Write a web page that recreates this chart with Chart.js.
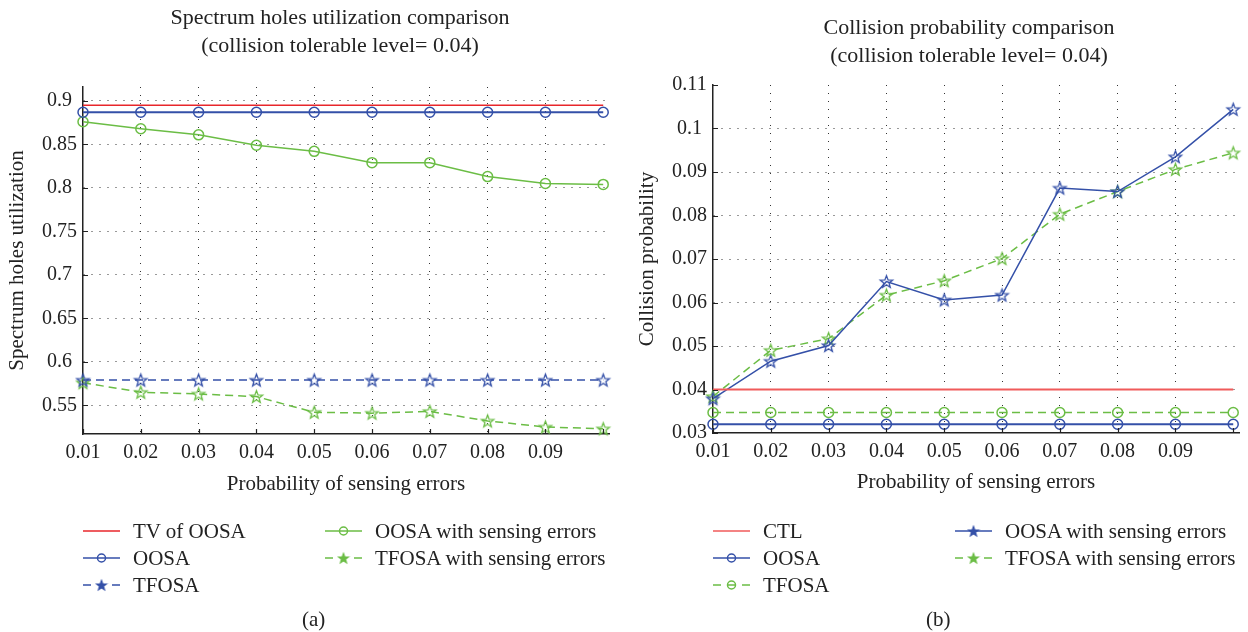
<!DOCTYPE html>
<html><head><meta charset="utf-8">
<script src="https://cdn.jsdelivr.net/npm/chart.js@4.4.0/dist/chart.umd.min.js"></script>
<style>
html,body{margin:0;padding:0;background:#fff;}
#wrap{position:relative;width:1248px;height:632px;overflow:hidden;font-family:"Liberation Serif",serif;color:#222;}
.panel{position:absolute;top:0;width:624px;height:632px;}
.panel canvas.chart{position:absolute;left:0;top:0;}
.ttl{position:absolute;width:500px;text-align:center;font-size:22px;line-height:28px;white-space:nowrap;}
.item{position:absolute;height:24px;display:flex;align-items:center;white-space:nowrap;font-size:21px;line-height:24px;}
.item canvas{margin-right:13px;}
.cap{position:absolute;top:606px;font-size:21px;line-height:26px;}
</style></head>
<body>
<div id="wrap">
  <div class="panel" id="pA" style="left:0"><canvas class="chart" id="cA" width="624" height="632"></canvas><div class="ttl" id="tA" style="left:90px;top:3px"></div><div class="cap" style="left:302px">(a)</div></div>
  <div class="panel" id="pB" style="left:624px"><canvas class="chart" id="cB" width="624" height="632"></canvas><div class="ttl" id="tB" style="left:95px;top:13px"></div><div class="cap" style="left:302px">(b)</div></div>
</div>
<script>
// ---------- data ----------
const xValues = [0.01, 0.02, 0.03, 0.04, 0.05, 0.06, 0.07, 0.08, 0.09, 0.10];
const xTickLabels = ['0.01','0.02','0.03','0.04','0.05','0.06','0.07','0.08','0.09',''];
const xAxisTitle = 'Probability of sensing errors';

// (a) Spectrum holes utilization
const titleA = ['Spectrum holes utilization comparison', '(collision tolerable level= 0.04)'];
const yTitleA = 'Spectrum holes utilization';
const yTicksA = [0.55, 0.6, 0.65, 0.7, 0.75, 0.8, 0.85, 0.9];
const yTickLabelsA = ['0.55','0.6','0.65','0.7','0.75','0.8','0.85','0.9'];
const tvOosaA    = [0.895, 0.895, 0.895, 0.895, 0.895, 0.895, 0.895, 0.895, 0.895, 0.895];
const oosaA      = [0.887, 0.887, 0.887, 0.887, 0.887, 0.887, 0.887, 0.887, 0.887, 0.887];
const tfosaA     = [0.579, 0.579, 0.579, 0.579, 0.579, 0.579, 0.579, 0.579, 0.579, 0.579];
const oosaErrA   = [0.876, 0.868, 0.861, 0.849, 0.842, 0.829, 0.829, 0.813, 0.805, 0.804];
const tfosaErrA  = [0.576, 0.565, 0.563, 0.560, 0.542, 0.541, 0.543, 0.532, 0.525, 0.523];

// (b) Collision probability
const titleB = ['Collision probability comparison', '(collision tolerable level= 0.04)'];
const yTitleB = 'Collision probability';
const yTicksB = [0.03, 0.04, 0.05, 0.06, 0.07, 0.08, 0.09, 0.10, 0.11];
const yTickLabelsB = ['0.03','0.04','0.05','0.06','0.07','0.08','0.09','0.1','0.11'];
const ctlB       = [0.04, 0.04, 0.04, 0.04, 0.04, 0.04, 0.04, 0.04, 0.04, 0.04];
const oosaB      = [0.032, 0.032, 0.032, 0.032, 0.032, 0.032, 0.032, 0.032, 0.032, 0.032];
const tfosaB     = [0.0347, 0.0347, 0.0347, 0.0347, 0.0347, 0.0347, 0.0347, 0.0347, 0.0347, 0.0347];
const oosaErrB   = [0.0379, 0.0465, 0.0501, 0.0648, 0.0606, 0.0617, 0.0863, 0.0855, 0.0935, 0.1044];
const tfosaErrB  = [0.0384, 0.0490, 0.0517, 0.0617, 0.0650, 0.0701, 0.0803, 0.0855, 0.0906, 0.0944];

// ---------- styles ----------
const RED = '#e8262b', RED_B = '#f05a5a', BLUE = '#3450a8', GREEN = '#6bbd45';
const FONT = '"Liberation Serif", serif';
const TXT = '#222';
const DASH = [8, 5];

function starImg(color, r, fill) {
  const s = Math.ceil(r * 2 + 4);
  const c = document.createElement('canvas');
  c.width = s; c.height = s;
  const g = c.getContext('2d');
  g.strokeStyle = color; g.lineWidth = 1.3; g.lineJoin = 'miter';
  g.beginPath();
  for (let i = 0; i < 10; i++) {
    const rad = i % 2 ? r * 0.42 : r;
    const a = -Math.PI / 2 + i * Math.PI / 5;
    const px = s / 2 + rad * Math.cos(a), py = s / 2 + rad * Math.sin(a) + 0.6;
    i ? g.lineTo(px, py) : g.moveTo(px, py);
  }
  g.closePath();
  if (fill) { g.fillStyle = color; g.fill(); }
  g.stroke();
  return c;
}

function ds(label, values, color, opt) {
  return Object.assign({
    label, data: xValues.map((x, i) => ({x, y: values[i]})),
    borderColor: color, backgroundColor: 'rgba(0,0,0,0)',
    borderWidth: 1.5, pointRadius: 0, pointBorderWidth: 1.5, pointBorderColor: color,
    pointBackgroundColor: 'rgba(0,0,0,0)', tension: 0, clip: false, borderDash: []
  }, opt || {});
}

const inwardTicks = {
  id: 'inwardTicks',
  afterDatasetsDraw(chart) {
    const {ctx, chartArea: a, scales: {x, y}} = chart;
    ctx.save();
    ctx.strokeStyle = '#222'; ctx.lineWidth = 1.2;
    ctx.beginPath();
    x.ticks.forEach(t => { const px = Math.round(x.getPixelForValue(t.value)) + 0.5; ctx.moveTo(px, a.bottom); ctx.lineTo(px, a.bottom - 5); });
    y.ticks.forEach(t => { const py = Math.round(y.getPixelForValue(t.value)) + 0.5; ctx.moveTo(a.left, py); ctx.lineTo(a.left + 5, py); });
    ctx.stroke();
    ctx.restore();
  }
};

function makeChart(id, cfg) {
  return new Chart(document.getElementById(id), {
    type: 'line',
    data: {datasets: cfg.datasets},
    plugins: [inwardTicks],
    options: {
      responsive: false, animation: false, devicePixelRatio: 1,
      layout: {padding: {left: 0, right: cfg.padRight, top: cfg.padTop, bottom: 132}},
      plugins: {legend: {display: false}, tooltip: {enabled: false}, title: {display: false}},
      scales: {
        x: {
          type: 'linear', min: 0.01, max: 0.101,
          afterBuildTicks: s => { s.ticks = xValues.map(v => ({value: v})); },
          afterFit: s => { s.height = cfg.xHeight; },
          ticks: {autoSkip: false, maxRotation: 0, padding: 7, color: TXT,
            font: {family: FONT, size: 20, lineHeight: 1.2},
            callback: (v, i) => xTickLabels[i]},
          grid: {drawTicks: false, lineWidth: 1,
            color: c => (c.index > 0 && c.index < xValues.length - 1) ? '#333' : 'rgba(0,0,0,0)'},
          border: {display: true, color: '#222', width: 1.5, dash: [1, 7]},
          title: {display: true, text: xAxisTitle, color: TXT,
            font: {family: FONT, size: 21, lineHeight: 1.2}, padding: {top: 0, bottom: cfg.xTitlePad}}
        },
        y: {
          type: 'linear', min: cfg.yMin, max: cfg.yMax,
          afterBuildTicks: s => { s.ticks = cfg.yTicks.map(v => ({value: v})); },
          afterFit: s => { s.width = cfg.yWidth; },
          ticks: {autoSkip: false, padding: 6, crossAlign: 'center', color: TXT,
            font: {family: FONT, size: 20, lineHeight: 1.2},
            callback: (v, i) => cfg.yTickLabels[i]},
          grid: {drawTicks: false, lineWidth: 1,
            color: c => cfg.yGrid(c.index) ? '#333' : 'rgba(0,0,0,0)'},
          border: {display: true, color: '#222', width: 1.5, dash: [1, 7]},
          title: {display: true, text: cfg.yTitle, color: TXT,
            font: {family: FONT, size: 21, lineHeight: 1.2}, padding: {top: cfg.yTitlePad, bottom: 0}}
        }
      }
    }
  });
}

const circ = {pointStyle: 'circle', pointRadius: 5};
const chartA = makeChart('cA', {
  padTop: 87, padRight: 15, xHeight: 66, xTitlePad: 3,
  yMin: 0.517, yMax: 0.916, yTicks: yTicksA, yTickLabels: yTickLabelsA, yWidth: 83, yTitlePad: 5,
  yTitle: yTitleA, yGrid: i => true,
  datasets: [
    ds('TV of OOSA', tvOosaA, RED, {borderWidth: 1.5}),
    ds('OOSA', oosaA, BLUE, Object.assign({borderWidth: 2}, circ)),
    ds('TFOSA', tfosaA, BLUE, {borderDash: DASH, pointStyle: starImg(BLUE, 6.5), pointRadius: 6}),
    ds('OOSA with sensing errors', oosaErrA, GREEN, Object.assign({}, circ)),
    ds('TFOSA with sensing errors', tfosaErrA, GREEN, {borderDash: DASH, pointStyle: starImg(GREEN, 6.5), pointRadius: 6})
  ]
});
const chartB = makeChart('cB', {
  padTop: 85, padRight: 9, xHeight: 67, xTitlePad: 5,
  yMin: 0.03, yMax: 0.11, yTicks: yTicksB, yTickLabels: yTickLabelsB, yWidth: 89, yTitlePad: 11,
  yTitle: yTitleB, yGrid: i => i > 0 && i < yTicksB.length - 1,
  datasets: [
    ds('CTL', ctlB, RED_B, {borderWidth: 1.8}),
    ds('OOSA', oosaB, BLUE, Object.assign({borderWidth: 2}, circ)),
    ds('TFOSA', tfosaB, GREEN, Object.assign({borderDash: DASH}, circ)),
    ds('OOSA with sensing errors', oosaErrB, BLUE, {pointStyle: starImg(BLUE, 6.5), pointRadius: 6}),
    ds('TFOSA with sensing errors', tfosaErrB, GREEN, {borderDash: DASH, pointStyle: starImg(GREEN, 6.5), pointRadius: 6})
  ]
});

// ---------- titles ----------
function setTitle(id, lines) {
  const el = document.getElementById(id);
  lines.forEach(l => { const d = document.createElement('div'); d.textContent = l; el.appendChild(d); });
}
setTitle('tA', titleA);
setTitle('tB', titleB);

// ---------- HTML legends built from the datasets ----------
function legend(panelId, chart, places) {
  const panel = document.getElementById(panelId);
  chart.data.datasets.forEach((d, i) => {
    const p = places[i];
    const item = document.createElement('div');
    item.className = 'item';
    item.style.left = p[0] + 'px'; item.style.top = (p[1] - 12) + 'px';
    const c = document.createElement('canvas');
    c.width = 37; c.height = 16;
    const g = c.getContext('2d');
    const dashed = d.borderDash && d.borderDash.length;
    g.strokeStyle = d.borderColor; g.lineWidth = 1.5;
    g.beginPath();
    if (dashed) { g.moveTo(0, 8); g.lineTo(8, 8); g.moveTo(29, 8); g.lineTo(37, 8); }
    else { g.moveTo(0, 8); g.lineTo(37, 8); }
    g.stroke();
    if (d.pointStyle === 'circle') {
      g.fillStyle = '#fff';
      g.beginPath(); g.arc(18.5, 8, 4, 0, Math.PI * 2); g.fill(); g.stroke();
      g.beginPath(); g.moveTo(14.5, 8); g.lineTo(22.5, 8); g.stroke();
    } else if (d.pointStyle instanceof HTMLCanvasElement) {
      const st = starImg(d.borderColor, 5, true);
      g.drawImage(st, 18.5 - st.width / 2, 8 - st.height / 2);
    }
    item.appendChild(c);
    const t = document.createElement('span'); t.textContent = d.label;
    item.appendChild(t);
    panel.appendChild(item);
  });
}
legend('pA', chartA, [[83, 531], [83, 558], [83, 585], [325, 531], [325, 558]]);
legend('pB', chartB, [[89, 531], [89, 558], [89, 585], [331, 531], [331, 558]]);
</script>
</body></html>
